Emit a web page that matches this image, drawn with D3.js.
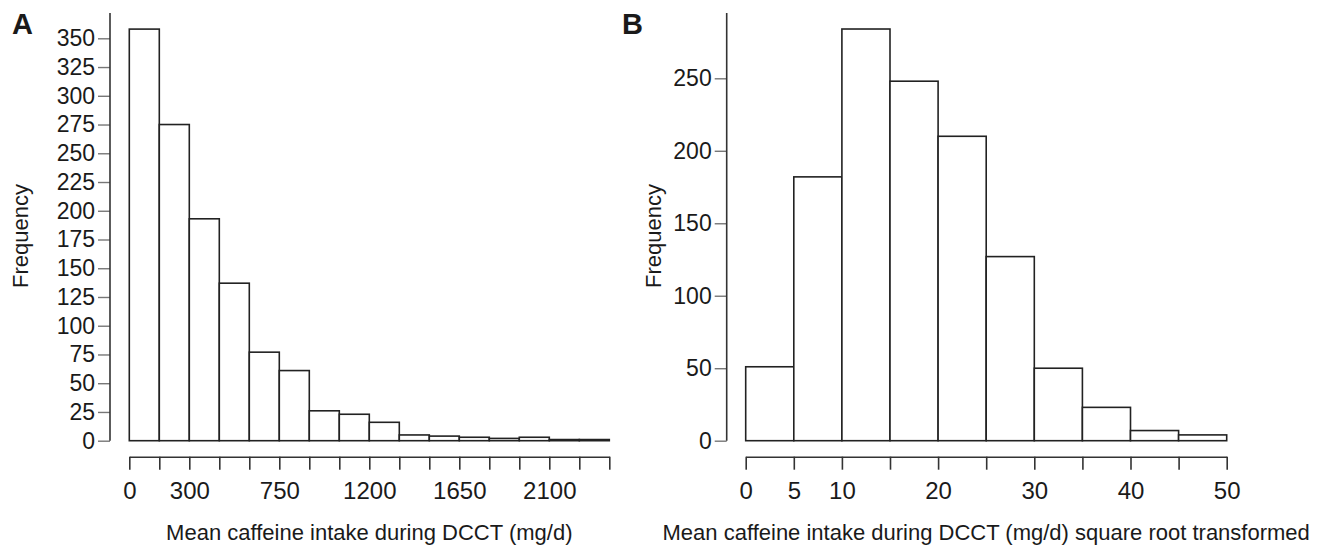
<!DOCTYPE html>
<html>
<head>
<meta charset="utf-8">
<script src="https://cdn.jsdelivr.net/npm/d3@7"></script>
<style>
  body { margin: 0; background: #fff; }
  text { font-family: "Liberation Sans", Arial, sans-serif; fill: #1a1a1a; }
</style>
</head>
<body>
<div id="chart"></div>
<script>
  // panel A: raw caffeine intake, bins of 150 mg/d
  var binWidthA = 150;
  var countsA = [358, 275, 193, 137, 77, 61, 26, 23, 16, 5, 4, 3, 2, 3, 1, 1];
  var yTicksA = [0, 25, 50, 75, 100, 125, 150, 175, 200, 225, 250, 275, 300, 325, 350];
  var xLabelsA = [0, 300, 750, 1200, 1650, 2100];

  // panel B: square root transformed, bins of 5
  var binWidthB = 5;
  var countsB = [51, 182, 284, 248, 210, 127, 50, 23, 7, 4];
  var yTicksB = [0, 50, 100, 150, 200, 250];
  var xLabelsB = [0, 5, 10, 20, 30, 40, 50];

  var width = 1333, height = 546;
  var ink = "#222", axisInk = "#333", tickInk = "#777";

  var svg = d3.select("#chart").append("svg")
    .attr("width", width)
    .attr("height", height);

  function drawPanel(opt) {
    var g = svg.append("g");
    var nBins = opt.counts.length;
    var xMax = nBins * opt.binWidth;

    var x = d3.scaleLinear().domain([0, xMax]).range(opt.xRange);
    var y = d3.scaleLinear().domain([0, opt.yTickMax]).range(opt.yRange);

    // bars
    g.selectAll("rect.bar")
      .data(opt.counts)
      .enter()
      .append("rect")
      .attr("class", "bar")
      .attr("x", (d, i) => x(i * opt.binWidth))
      .attr("y", d => y(d))
      .attr("width", x(opt.binWidth) - x(0))
      .attr("height", d => y(0) - y(d))
      .attr("fill", "#fff")
      .attr("stroke", ink)
      .attr("stroke-width", 1.6);

    // y axis
    var yAxis = d3.axisLeft(y)
      .tickValues(opt.yTicks)
      .tickSize(12)
      .tickPadding(3)
      .tickSizeOuter(0);
    var yg = g.append("g")
      .attr("transform", "translate(" + opt.yAxisX + ",0)")
      .call(yAxis);
    yg.select(".domain").remove();
    yg.selectAll(".tick line").attr("stroke", tickInk).attr("stroke-width", 1.4);
    yg.selectAll(".tick text")
      .attr("font-size", opt.yFont)
      .attr("font-family", "Liberation Sans, Arial, sans-serif")
      .attr("fill", "#1a1a1a");
    yg.append("line")
      .attr("x1", 0).attr("x2", 0)
      .attr("y1", y(0)).attr("y2", y(opt.yLineTop))
      .attr("stroke", axisInk)
      .attr("stroke-width", 1.6);

    // x axis, drawn a little below the bars
    var xTicks = d3.range(0, nBins + 1).map(i => i * opt.binWidth);
    var xAxis = d3.axisBottom(x)
      .tickValues(xTicks)
      .tickSize(13)
      .tickSizeOuter(0)
      .tickPadding(12)
      .tickFormat(d => opt.xLabels.indexOf(d) >= 0 ? d : "");
    var xg = g.append("g")
      .attr("transform", "translate(0," + opt.xAxisY + ")")
      .call(xAxis);
    xg.select(".domain").attr("stroke", axisInk).attr("stroke-width", 1.6);
    xg.selectAll(".tick line").attr("stroke", axisInk).attr("stroke-width", 1.6);
    xg.selectAll(".tick text")
      .attr("font-size", "24px")
      .attr("font-family", "Liberation Sans, Arial, sans-serif")
      .attr("fill", "#1a1a1a");

    // axis titles
    g.append("text")
      .attr("x", (opt.xRange[0] + opt.xRange[1]) / 2)
      .attr("y", 540)
      .attr("text-anchor", "middle")
      .attr("font-size", "22px")
      .text(opt.xTitle);

    g.append("text")
      .attr("transform", "translate(" + opt.yTitleX + ",236) rotate(-90)")
      .attr("text-anchor", "middle")
      .attr("font-size", "22px")
      .text("Frequency");

    // panel letter
    g.append("text")
      .attr("x", opt.letterX)
      .attr("y", 34)
      .attr("font-size", "29px")
      .attr("font-weight", "bold")
      .attr("fill", "#000")
      .text(opt.letter);
  }

  drawPanel({
    counts: countsA,
    binWidth: binWidthA,
    yTicks: yTicksA,
    yTickMax: 350,
    yLineTop: 372,
    xLabels: xLabelsA,
    xRange: [129.3, 609.3],
    yRange: [440.7, 38.3],
    yAxisX: 110,
    xAxisY: 456.7,
    yFont: "23px",
    yTitleX: 28,
    letterX: 12,
    letter: "A",
    xTitle: "Mean caffeine intake during DCCT (mg/d)"
  });

  drawPanel({
    counts: countsB,
    binWidth: binWidthB,
    yTicks: yTicksB,
    yTickMax: 250,
    yLineTop: 295,
    xLabels: xLabelsB,
    xRange: [745.7, 1226.7],
    yRange: [440.7, 78.3],
    yAxisX: 726.7,
    xAxisY: 456.7,
    yFont: "23px",
    yTitleX: 661,
    letterX: 622,
    letter: "B",
    xTitle: "Mean caffeine intake during DCCT (mg/d) square root transformed"
  });
</script>
</body>
</html>
